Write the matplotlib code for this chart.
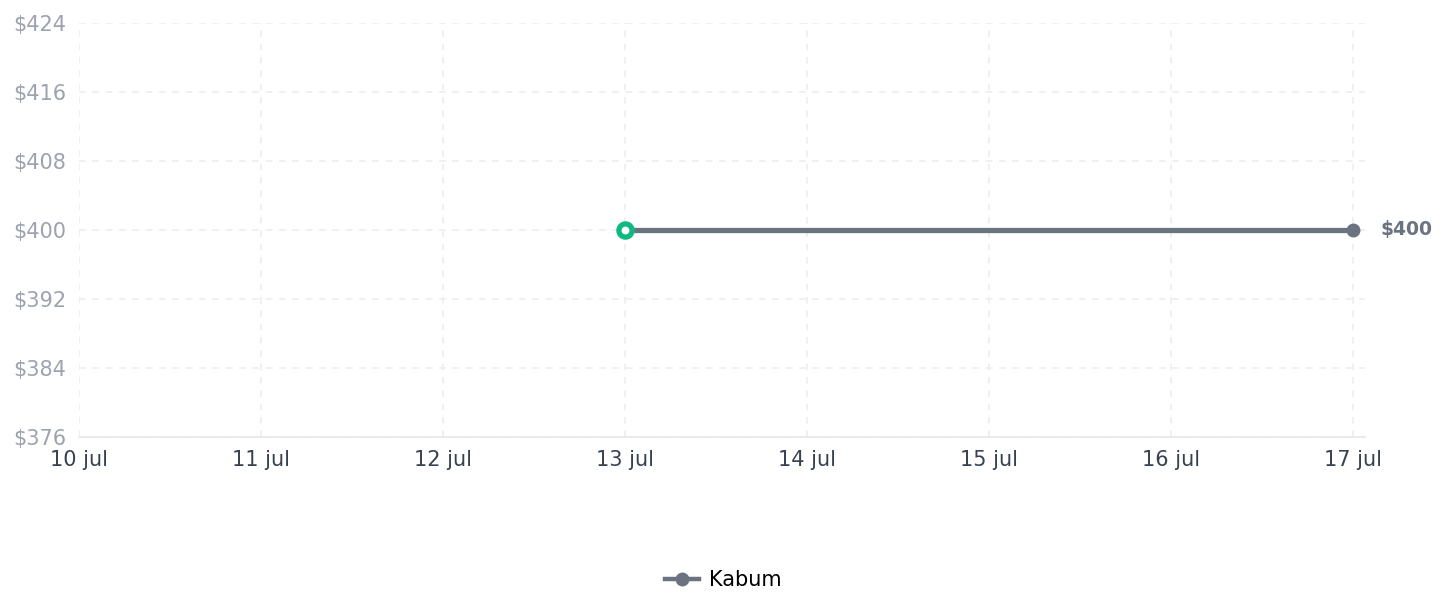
import numpy as np
import matplotlib.pyplot as plt
from matplotlib.lines import Line2D

# Data
day_labels = ["10 jul", "11 jul", "12 jul", "13 jul", "14 jul", "15 jul", "16 jul", "17 jul"]
kabum_days = ["13 jul", "17 jul"]
kabum_prices = [400, 400]
y_ticks = [376, 384, 392, 400, 408, 416, 424]

line_color = "#6b7280"
start_color = "#10b981"
grid_color = "#ebedf0"

x_pos = np.arange(len(day_labels))
kabum_x = [day_labels.index(d) for d in kabum_days]

fig = plt.figure(figsize=(14.47, 6.15), dpi=100)
ax = fig.add_axes([79 / 1447, 1 - 437 / 615, (1365 - 79) / 1447, (437 - 23) / 615])

ax.plot(kabum_x, kabum_prices, color=line_color, lw=3.8, solid_capstyle="round", zorder=3)
# end point
ax.plot(kabum_x[-1], kabum_prices[-1], "o", color=line_color, ms=9, zorder=4)
# start point ring
ax.plot(kabum_x[0], kabum_prices[0], "o", mfc="white", mec=start_color, mew=3.8,
        ms=9.5, zorder=5)
ax.annotate(f"${kabum_prices[-1]}", (kabum_x[-1], kabum_prices[-1]),
            xytext=(20, 0), textcoords="offset points", va="center", ha="left",
            fontsize=13.5, fontweight="bold", color=line_color)

ax.set_xlim(0, 7.066)
ax.set_ylim(376, 424)
ax.set_xticks(x_pos)
ax.set_xticklabels(day_labels)
ax.set_yticks(y_ticks)
ax.set_yticklabels([f"${v}" for v in y_ticks])
ax.tick_params(axis="x", length=0, pad=9, labelsize=15, labelcolor="#374151")
ax.tick_params(axis="y", length=0, pad=9, labelsize=15, labelcolor="#9ca3af")

ax.grid(True, color=grid_color, linestyle=(0, (4, 4)), lw=1.2)
for side in ["top", "right", "left"]:
    ax.spines[side].set_visible(False)
ax.spines["bottom"].set_color("#e5e7eb")
ax.spines["bottom"].set_linewidth(1.2)

handle = Line2D([], [], color=line_color, lw=3.2, marker="o", ms=9)
fig.legend([handle], ["Kabum"], loc="center", bbox_to_anchor=(0.5, 1 - 580 / 615),
           frameon=False, fontsize=15, handlelength=1.6, handletextpad=0.5)

fig.savefig("out.png", dpi=100)
